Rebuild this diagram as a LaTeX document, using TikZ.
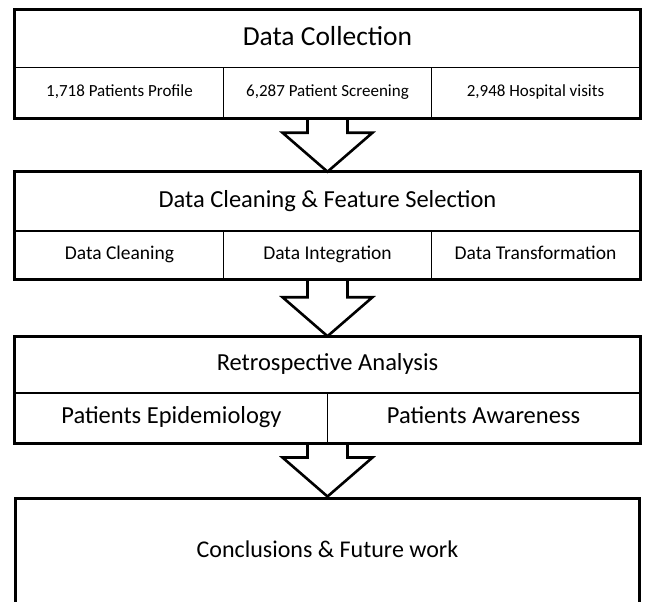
\documentclass[tikz,border=0pt]{standalone}
\usepackage{fontspec}
\setmainfont{Carlito}
\usetikzlibrary{calc, fit}
\tikzstyle{head} = [rectangle, draw, line width=1.6pt, minimum width=624pt, minimum height=57pt, inner sep=0pt, text centered, text height=15.7pt, text depth=4.9pt, font=\fontsize{24.5}{28}\selectfont]
\tikzstyle{cell} = [rectangle, draw, line width=1.6pt, minimum width=208pt, minimum height=50pt, inner sep=0pt, text centered, text height=10.9pt, text depth=3.4pt, font=\fontsize{17}{20}\selectfont]
\tikzstyle{frame} = [rectangle, draw, line width=3pt, inner sep=0pt]
\tikzstyle{hollow} = [draw, line width=2.6pt, line join=miter]

\begin{document}
\begin{tikzpicture}[x=1pt, y=1pt]
	\path [fill=white, use as bounding box] (0,0) rectangle (645,-602);
	
	% stage 1
	\node [head, text height=17.6pt, text depth=5.5pt, font=\fontsize{27.5}{30}\selectfont] (dc) at (327.5,-39) {Data Collection};
	\node [cell, below of=dc, node distance=53.75pt, minimum height=50.5pt] (dc2) {6,287 Patient Screening};
	\node [cell, left of=dc2, node distance=208pt, minimum height=50.5pt] (dc1) {1,718 Patients Profile};
	\node [cell, right of=dc2, node distance=208pt, minimum height=50.5pt] (dc3) {2,948 Hospital visits};
	\node [frame, fit=(dc)(dc1)(dc3)] (dcbox) {};
	
	% stage 2
	\node [head, below of=dc2, node distance=109pt, minimum height=58.5pt] (cl) {Data Cleaning \& Feature Selection};
	\node [cell, below of=cl, node distance=53.25pt, minimum height=48pt, text height=12.5pt, text depth=3.9pt, font=\fontsize{19.5}{22}\selectfont] (cl2) {Data Integration};
	\node [cell, left of=cl2, node distance=208pt, minimum height=48pt, text height=12.5pt, text depth=3.9pt, font=\fontsize{19.5}{22}\selectfont] (cl1) {Data Cleaning};
	\node [cell, right of=cl2, node distance=208pt, minimum height=48pt, text height=12.5pt, text depth=3.9pt, font=\fontsize{19.5}{22}\selectfont] (cl3) {Data Transformation};
	\node [frame, fit=(cl)(cl1)(cl3)] (clbox) {};
	
	% stage 3
	\node [head, below of=cl2, node distance=110pt, minimum height=56pt] (ra) {Retrospective Analysis};
	\node [cell, below of=ra, node distance=53pt, xshift=-156pt, minimum width=312pt, text height=15.7pt, text depth=4.9pt, font=\fontsize{24.5}{28}\selectfont] (ra1) {Patients Epidemiology};
	\node [cell, below of=ra, node distance=53pt, xshift=156pt, minimum width=312pt, text height=15.7pt, text depth=4.9pt, font=\fontsize{24.5}{28}\selectfont] (ra2) {Patients Awareness};
	\node [frame, fit=(ra)(ra1)(ra2)] (rabox) {};
	
	% stage 4
	\node [frame, below of=ra, node distance=187pt, minimum width=624pt, minimum height=108pt, text height=15.4pt, text depth=4.8pt, font=\fontsize{24}{28}\selectfont] (cf) {Conclusions \& Future work};
	
	% hollow arrows between the stages
	\draw [hollow] ($(dc2.south)+(-20,0)$) -- ($(cl.north)+(-20,39)$) -- ($(cl.north)+(-45,39)$) -- (cl.north) -- ($(cl.north)+(45,39)$) -- ($(cl.north)+(20,39)$) -- ($(dc2.south)+(20,0)$);
	\draw [hollow] ($(cl2.south)+(-20,0)$) -- ($(ra.north)+(-20,39)$) -- ($(ra.north)+(-45,39)$) -- (ra.north) -- ($(ra.north)+(45,39)$) -- ($(ra.north)+(20,39)$) -- ($(cl2.south)+(20,0)$);
	\draw [hollow] ($(ra.south)+(-20,-50)$) -- ($(cf.north)+(-20,39)$) -- ($(cf.north)+(-45,39)$) -- (cf.north) -- ($(cf.north)+(45,39)$) -- ($(cf.north)+(20,39)$) -- ($(ra.south)+(20,-50)$);
	
\end{tikzpicture}
\end{document}
